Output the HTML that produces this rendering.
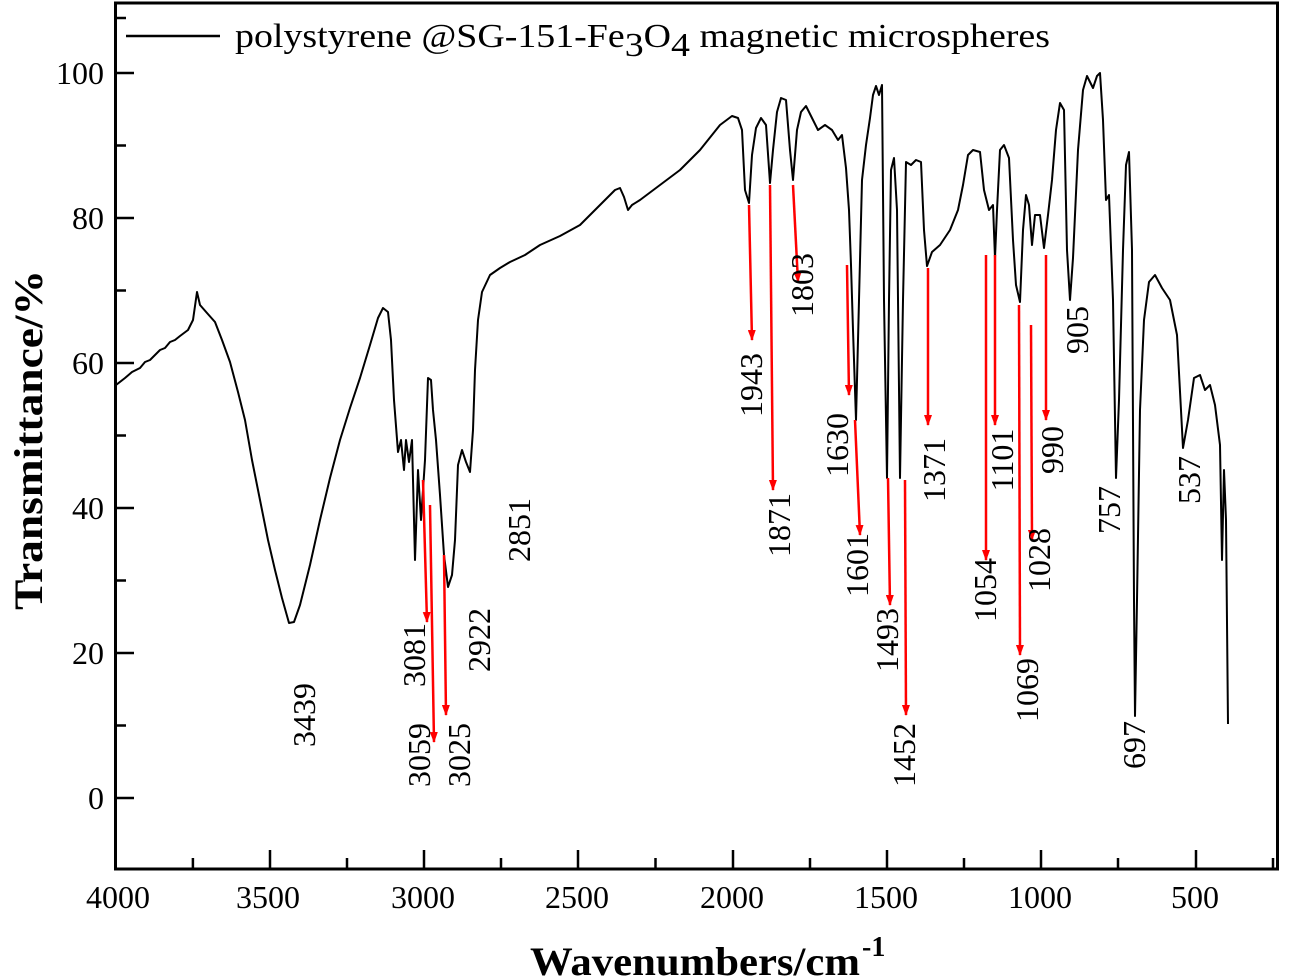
<!DOCTYPE html>
<html><head><meta charset="utf-8"><style>
html,body{margin:0;padding:0;background:#fff;}
svg{display:block;}
text{font-family:"Liberation Serif",serif;fill:#000;}
.lb{font-size:32px;}
</style></head><body>
<svg width="1291" height="978" viewBox="0 0 1291 978" xmlns="http://www.w3.org/2000/svg">
<defs><marker id="ah" markerWidth="11" markerHeight="8" refX="10" refY="4" orient="auto" markerUnits="userSpaceOnUse" viewBox="0 0 11 8"><path d="M0,0 L11,4 L0,8 Z" fill="#f00"/></marker></defs>
<rect x="115.5" y="3" width="1162" height="866" fill="none" stroke="#000" stroke-width="3"/>
<g stroke="#000" stroke-width="2.5">
<line x1="116" y1="798" x2="134" y2="798"/><line x1="116" y1="725.5" x2="126" y2="725.5"/>
<line x1="116" y1="653" x2="134" y2="653"/><line x1="116" y1="580.5" x2="126" y2="580.5"/>
<line x1="116" y1="508" x2="134" y2="508"/><line x1="116" y1="435.5" x2="126" y2="435.5"/>
<line x1="116" y1="363" x2="134" y2="363"/><line x1="116" y1="290.5" x2="126" y2="290.5"/>
<line x1="116" y1="218" x2="134" y2="218"/><line x1="116" y1="145.5" x2="126" y2="145.5"/>
<line x1="116" y1="73" x2="134" y2="73"/><line x1="116" y1="18" x2="126" y2="18"/>
<line x1="192.9" y1="868" x2="192.9" y2="858"/><line x1="270" y1="868" x2="270" y2="850"/>
<line x1="347" y1="868" x2="347" y2="858"/><line x1="424" y1="868" x2="424" y2="850"/>
<line x1="501" y1="868" x2="501" y2="858"/><line x1="578" y1="868" x2="578" y2="850"/>
<line x1="655.5" y1="868" x2="655.5" y2="858"/><line x1="733" y1="868" x2="733" y2="850"/>
<line x1="810" y1="868" x2="810" y2="858"/><line x1="887" y1="868" x2="887" y2="850"/>
<line x1="964" y1="868" x2="964" y2="858"/><line x1="1041" y1="868" x2="1041" y2="850"/>
<line x1="1118" y1="868" x2="1118" y2="858"/><line x1="1196" y1="868" x2="1196" y2="850"/>
<line x1="1273" y1="868" x2="1273" y2="858"/>
</g>
<g class="lb" text-anchor="end">
<text x="104" y="809">0</text><text x="104" y="664">20</text><text x="104" y="519">40</text>
<text x="104" y="374">60</text><text x="104" y="229">80</text><text x="104" y="84">100</text>
</g>
<g class="lb" text-anchor="middle">
<text x="118" y="908">4000</text><text x="268" y="908">3500</text><text x="423" y="908">3000</text>
<text x="577" y="908">2500</text><text x="732" y="908">2000</text><text x="886" y="908">1500</text>
<text x="1040" y="908">1000</text><text x="1195" y="908">500</text>
</g>
<text x="530" y="975" font-size="40" font-weight="bold" textLength="330" lengthAdjust="spacingAndGlyphs">Wavenumbers/cm</text>
<text x="862" y="956" font-size="28" font-weight="bold">-1</text>
<text transform="translate(42,440) rotate(-90)" text-anchor="middle" font-size="40" font-weight="bold" textLength="340" lengthAdjust="spacingAndGlyphs">Transmittance/%</text>
<line x1="126" y1="36" x2="220" y2="36" stroke="#000" stroke-width="2.5"/>
<text x="235" y="47" font-size="34" textLength="815" lengthAdjust="spacingAndGlyphs">polystyrene @SG-151-Fe<tspan dy="9">3</tspan><tspan dy="-9">O</tspan><tspan dy="9">4</tspan><tspan dy="-9"> magnetic microspheres</tspan></text>
<polyline fill="none" stroke="#000" stroke-width="2" stroke-linejoin="round" points="
116,385 125,378 132,372 140,368 145,362 150,360 155,355 160,350 165,348 170,342 175,340 180,336 188,330 193,320 197,292 200,305 207,313 215,322 222,340 230,362 238,392 245,420 252,460 260,500 268,540 275,570 282,598 289,623 294,622 300,605 310,565 320,520 330,478 340,440 350,408 360,378 370,345 378,318 383,308 388,312 391,340 394,400 398,452 401,440 404,470 406,440 409,462 412,440 415,560 418,470 421,520 425,460 428,378 431,380 433,410 436,440 440,495 444,555 448,587 452,575 455,540 458,465 462,450 466,462 470,472 473,430 475,370 478,320 482,292 490,275 500,268 510,262 525,255 540,245 560,236 580,225 595,210 605,200 615,190 620,188 624,197 628,210 632,205 640,200 660,185 680,170 700,150 720,125 732,116 738,118 742,130 745,190 749,203 752,155 756,128 761,118 766,125 770,183 773,150 777,112 781,98 786,100 790,150 793,180 797,130 801,112 806,106 812,118 818,130 825,125 832,130 838,140 842,135 846,168 849,210 851,265 853,330 856,420 859,300 862,180 866,145 870,118 873,95 876,86 879,95 882,85 884,300 887,478 889,300 891,170 894,158 897,210 900,478 903,300 906,162 911,165 916,160 921,162 924,230 927,266 932,252 940,245 950,230 958,210 963,185 968,155 973,150 980,152 984,190 989,210 993,205 995,258 997,210 1000,150 1004,145 1009,158 1013,240 1016,285 1020,302 1023,230 1026,195 1029,205 1032,245 1035,215 1040,215 1044,248 1048,215 1052,180 1056,130 1060,103 1064,110 1067,250 1070,300 1073,258 1078,150 1083,90 1087,76 1093,88 1097,76 1100,73 1103,120 1106,200 1109,195 1113,300 1116,478 1119,400 1123,250 1126,165 1129,152 1132,250 1134,600 1135,716 1137,600 1140,410 1144,320 1149,282 1155,275 1162,288 1170,300 1177,335 1183,448 1188,420 1194,378 1200,375 1205,390 1210,385 1215,405 1220,445 1222,560 1224,470 1226,520 1228,724"/>
<g stroke="#f00" stroke-width="2.5" marker-end="url(#ah)">
<line x1="423" y1="480" x2="427" y2="622"/>
<line x1="430" y1="505" x2="434" y2="742"/>
<line x1="444" y1="555" x2="446" y2="715"/>
<line x1="749" y1="205" x2="752" y2="340"/>
<line x1="770" y1="185" x2="773" y2="490"/>
<line x1="793" y1="185" x2="798" y2="282"/>
<line x1="847" y1="265" x2="849" y2="395"/>
<line x1="855" y1="420" x2="860" y2="535"/>
<line x1="888" y1="478" x2="890" y2="605"/>
<line x1="905" y1="480" x2="906" y2="715"/>
<line x1="928" y1="268" x2="928" y2="425"/>
<line x1="995" y1="255" x2="995" y2="425"/>
<line x1="986" y1="255" x2="986" y2="560"/>
<line x1="1019" y1="305" x2="1020" y2="655"/>
<line x1="1031" y1="325" x2="1032" y2="540"/>
<line x1="1046" y1="255" x2="1046" y2="420"/>
</g>
<g class="lb" text-anchor="middle">
<text transform="translate(315,715) rotate(-90)">3439</text>
<text transform="translate(425,655) rotate(-90)">3081</text>
<text transform="translate(430,755) rotate(-90)">3059</text>
<text transform="translate(470,755) rotate(-90)">3025</text>
<text transform="translate(490,640) rotate(-90)">2922</text>
<text transform="translate(530,530) rotate(-90)">2851</text>
<text transform="translate(762,385) rotate(-90)">1943</text>
<text transform="translate(790,525) rotate(-90)">1871</text>
<text transform="translate(813,285) rotate(-90)">1803</text>
<text transform="translate(848,445) rotate(-90)">1630</text>
<text transform="translate(868,565) rotate(-90)">1601</text>
<text transform="translate(898,640) rotate(-90)">1493</text>
<text transform="translate(915,755) rotate(-90)">1452</text>
<text transform="translate(945,470) rotate(-90)">1371</text>
<text transform="translate(1013,460) rotate(-90)">1101</text>
<text transform="translate(996,590) rotate(-90)">1054</text>
<text transform="translate(1038,690) rotate(-90)">1069</text>
<text transform="translate(1050,560) rotate(-90)">1028</text>
<text transform="translate(1063,450) rotate(-90)">990</text>
<text transform="translate(1088,330) rotate(-90)">905</text>
<text transform="translate(1120,510) rotate(-90)">757</text>
<text transform="translate(1145,745) rotate(-90)">697</text>
<text transform="translate(1200,480) rotate(-90)">537</text>
</g>
</svg>
</body></html>
